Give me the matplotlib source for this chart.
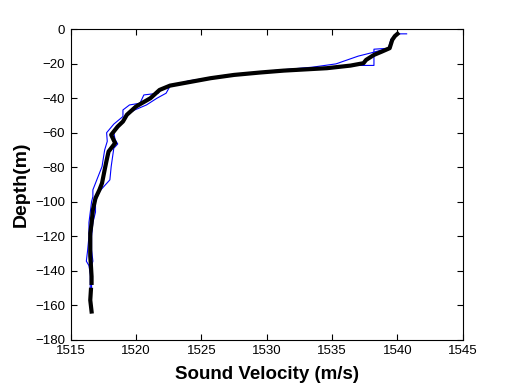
import numpy as np
import matplotlib
matplotlib.use('Agg')
from matplotlib import pyplot as plt

# Data: mean profile (thick black) and two envelope profiles (blue)
mean_depth = [-2.7, -4, -6.2, -11, -13, -14.9, -17.8, -19.7, -21.1, -22.6, -24, -25.1,
              -26.5, -28.4, -32.7, -35.2, -40, -44.8, -49.6, -53.5, -56.4, -61.2, -66,
              -70.9, -76, -81.5, -89.2, -93.1, -97.9, -104.7, -112.4, -118.2, -125,
              -131.5, -137, -143.3, -147, np.nan, -151, -157, -163.6]
mean_vel = [1540.0, 1539.8, 1539.6, 1539.4, 1538.8, 1538.2, 1537.6, 1537.4, 1536.4, 1534.6,
            1531.3, 1529.5, 1527.5, 1525.7, 1522.6, 1521.8, 1521.1, 1520.0, 1519.3, 1519.0,
            1518.6, 1518.1, 1518.4, 1517.9, 1517.75, 1517.6, 1517.4, 1517.2, 1516.9, 1516.7,
            1516.6, 1516.5, 1516.5, 1516.5, 1516.55, 1516.6, 1516.6, np.nan, 1516.55,
            1516.5, 1516.6]

right_depth = [-2.7, -2.7, -6, -11, -11.6, -21, -21, -22.6, -24, -26.5, -30, -33, -37.1,
               -40, -43.9, -46.8, -49.6, -55, -60, -64, -66.5, -69, -79.6, -87.3, -94,
               -100, -106, -112, -120, -128, -134.4, -137, -142, -150]
right_vel = [1540.7, 1540.0, 1539.5, 1539.4, 1538.2, 1538.2, 1536.4, 1534.6, 1531.3, 1527.0,
             1524.0, 1522.6, 1522.3, 1521.6, 1520.8, 1519.9, 1519.3, 1518.8, 1518.3, 1518.4,
             1518.6, 1518.3, 1518.1, 1518.0, 1517.2, 1516.9, 1516.9, 1516.7, 1516.6, 1516.6,
             1516.7, 1516.6, 1516.6, 1516.6]

left_depth = [-2.7, -6, -11, -13.7, -15.6, -18.5, -20.1, -22, -24, -26.5, -30, -33, -35,
              -37.1, -38.1, -42.9, -43.9, -46.8, -50.6, -55, -60, -65, -70, -79.6, -87.3,
              -93.1, -97, -100, -106, -112, -120, -128, -134.4, -137, -142, -150]
left_vel = [1539.9, 1539.5, 1539.3, 1538.0, 1537.0, 1535.9, 1535.3, 1533.5, 1530.5, 1527.5,
            1524.5, 1522.4, 1521.9, 1521.7, 1520.6, 1520.3, 1519.5, 1519.0, 1519.0, 1518.3,
            1517.75, 1517.8, 1517.6, 1517.4, 1517.0, 1516.7, 1516.7, 1516.6, 1516.5, 1516.4,
            1516.4, 1516.3, 1516.2, 1516.4, 1516.5, 1516.5]

x_ticks = [1515, 1520, 1525, 1530, 1535, 1540, 1545]
y_ticks = [0, -20, -40, -60, -80, -100, -120, -140, -160, -180]

plt.rcParams['font.family'] = ['Liberation Sans', 'DejaVu Sans']

fig = plt.figure(figsize=(5.12, 3.84), dpi=100)
ax = fig.add_axes([0.138, 0.115, 0.766, 0.809])

ax.plot(left_vel, left_depth, color='#0000ff', linewidth=0.8)
ax.plot(right_vel, right_depth, color='#0000ff', linewidth=0.8)
ax.plot(mean_vel, mean_depth, color='black', linewidth=3.0)

ax.set_xlim(1515, 1545)
ax.set_ylim(-180, 0)
ax.set_xticks(x_ticks)
ax.set_yticks(y_ticks)
ax.tick_params(direction='in', length=4, width=0.8, top=True, right=True,
               labelsize=9.5, pad=4)
for spine in ax.spines.values():
    spine.set_linewidth(0.8)

ax.set_xlabel('Sound Velocity (m/s)', fontsize=13.5, fontweight='bold', labelpad=6)
ax.set_ylabel('Depth(m)', fontsize=14, fontweight='bold', labelpad=4)

fig.savefig('out.png', dpi=100)
